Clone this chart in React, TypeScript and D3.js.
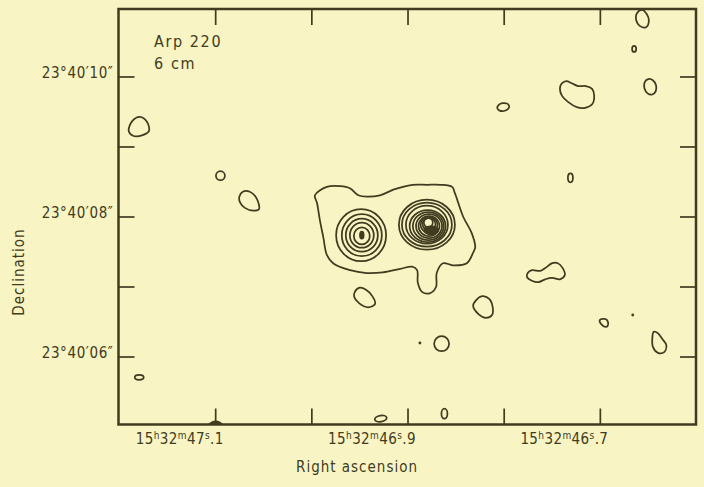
import React from 'react'
import * as d3 from 'd3'

const W = 704
const H = 487

// map offsets are in arcsec from RA 15h32m46.9s, Dec +23°40'08"
const RA0 = 46.9
const DEC0 = 8
const COS_DEC = Math.cos(((23 + 40 / 60 + 8 / 3600) * Math.PI) / 180)

const raTicks = [47.1, 47.0, 46.9, 46.8, 46.7]
const raLabels = [
  { ra: 47.1, sec: '47', frac: '.1' },
  { ra: 46.9, sec: '46', frac: '.9' },
  { ra: 46.7, sec: '46', frac: '.7' }
]
const decTicks = [10, 9, 8, 7, 6]
const decLabels = [10, 8, 6]

// outer (lowest) contour around both nuclei, [dRA", dDec"]
const envelope: [number, number][] = [
  [1.33, 0.31], [1.16, 0.43], [0.97, 0.44], [0.83, 0.41], [0.71, 0.31], [0.59, 0.29],
  [0.40, 0.31], [0.21, 0.39], [0.07, 0.43], [-0.07, 0.46], [-0.27, 0.46], [-0.46, 0.46],
  [-0.63, 0.43], [-0.67, 0.34], [-0.79, 0], [-0.91, -0.23], [-0.96, -0.43], [-0.93, -0.51],
  [-0.84, -0.66], [-0.64, -0.69], [-0.50, -0.66], [-0.41, -0.80], [-0.40, -1.00], [-0.31, -1.09],
  [-0.20, -1.07], [-0.14, -0.94], [-0.13, -0.76], [-0.06, -0.71], [0.11, -0.74], [0.36, -0.79],
  [0.59, -0.80], [0.83, -0.76], [1.07, -0.66], [1.16, -0.54], [1.21, -0.29], [1.26, -0.04],
  [1.30, 0.20]
]

// eastern nucleus rings [cx, cy, rx, ry]
const eastRings: [number, number, number, number][] = [
  [0.67, -0.26, 0.357, 0.371],
  [0.66, -0.26, 0.286, 0.30],
  [0.66, -0.26, 0.229, 0.236],
  [0.66, -0.26, 0.171, 0.179],
  [0.66, -0.27, 0.114, 0.121]
]
const eastPeak: [number, number, number, number] = [0.66, -0.26, 0.026, 0.05]

// western nucleus rings
const westRings: [number, number, number, number][] = [
  [-0.27, -0.11, 0.40, 0.357],
  [-0.27, -0.11, 0.357, 0.314],
  [-0.27, -0.11, 0.30, 0.271],
  [-0.28, -0.13, 0.257, 0.229],
  [-0.29, -0.13, 0.221, 0.20],
  [-0.30, -0.13, 0.186, 0.171],
  [-0.30, -0.13, 0.15, 0.143],
  [-0.30, -0.11, 0.121, 0.114],
  [-0.30, -0.10, 0.093, 0.086],
  [-0.29, -0.08, 0.064, 0.064]
]
const westPeak: [number, number, number, number] = [-0.33, -0.19, 0.10, 0.057]

// irregular noise contours
const patches: [number, number][][] = [
  [[3.99, 1.23], [3.94, 1.37], [3.83, 1.43], [3.73, 1.36], [3.70, 1.23], [3.79, 1.17], [3.93, 1.16]],
  [[2.41, 0.29], [2.36, 0.36], [2.26, 0.36], [2.16, 0.26], [2.13, 0.11], [2.21, 0.09], [2.33, 0.13], [2.40, 0.21]],
  [[-2.19, 1.90], [-2.26, 1.94], [-2.34, 1.91], [-2.43, 1.87], [-2.54, 1.87], [-2.63, 1.83], [-2.66, 1.73],
   [-2.63, 1.61], [-2.53, 1.56], [-2.41, 1.57], [-2.29, 1.64], [-2.20, 1.73], [-2.17, 1.83]],
  [[-1.71, -0.80], [-1.77, -0.76], [-1.89, -0.77], [-1.96, -0.73], [-2.06, -0.66], [-2.14, -0.66], [-2.21, -0.73],
   [-2.24, -0.83], [-2.17, -0.89], [-2.06, -0.87], [-1.96, -0.89], [-1.86, -0.93], [-1.77, -0.91], [-1.70, -0.86]],
  [[-3.27, 2.91], [-3.34, 2.96], [-3.41, 2.90], [-3.44, 2.80], [-3.40, 2.71], [-3.31, 2.73], [-3.26, 2.81]],
  [[0.76, -1.07], [0.69, -1.01], [0.60, -1.04], [0.51, -1.13], [0.47, -1.24], [0.57, -1.29], [0.70, -1.23], [0.77, -1.14]],
  [[-0.97, -1.19], [-1.06, -1.13], [-1.16, -1.17], [-1.21, -1.29], [-1.20, -1.40], [-1.11, -1.44], [-1.01, -1.39], [-0.93, -1.27]],
  [[-3.51, -1.64], [-3.57, -1.66], [-3.63, -1.74], [-3.69, -1.83], [-3.66, -1.93], [-3.57, -1.94], [-3.50, -1.86], [-3.49, -1.73]],
  [[-2.74, -1.47], [-2.83, -1.46], [-2.86, -1.53], [-2.83, -1.57], [-2.76, -1.53]]
]

// small elliptical noise contours [cx, cy, rx, ry, rot]
const islands: [number, number, number, number, number][] = [
  [2.68, 0.59, 0.064, 0.064, 0],
  [3.84, -2.29, 0.064, 0.036, 0],
  [-3.23, 2.40, 0.029, 0.043, 0],
  [-3.46, 1.86, 0.086, 0.114, -15],
  [-1.36, 1.57, 0.086, 0.057, -10],
  [-2.32, 0.56, 0.036, 0.064, 0],
  [-0.48, -1.81, 0.107, 0.107, 0],
  [0.39, -2.88, 0.086, 0.043, -10],
  [-0.52, -2.81, 0.043, 0.071, 0]
]
const dots: [number, number][] = [[-0.17, -1.80], [-3.21, -1.40]]

const INK = '#413b20'
const PAPER = '#f8f4c4'
const FONT = '"DejaVu Sans Condensed", "Liberation Sans Narrow", sans-serif'

export default function App() {
  const x = d3.scaleLinear().domain([4.136, -4.114]).range([118.5, 696])
  const y = d3.scaleLinear().domain([2.971, -2.964]).range([9, 424.5])
  const k = x(0) - x(1)
  const raX = (ra: number) => x((ra - RA0) * 15 * COS_DEC)
  const decY = (d: number) => y(d - DEC0)

  const line = d3
    .line<[number, number]>()
    .x(d => x(d[0]))
    .y(d => y(d[1]))
    .curve(d3.curveCatmullRomClosed.alpha(0.5))

  const [x0, x1] = x.range()
  const [y0, y1] = y.range()
  const tick = 16
  const sw = 1.75

  const ellipse = (e: number[], i: number, fill = 'none') => (
    <ellipse
      key={i}
      cx={x(e[0])}
      cy={y(e[1])}
      rx={e[2] * k}
      ry={e[3] * k}
      fill={fill}
      stroke={INK}
      strokeWidth={sw}
      transform={e[4] ? `rotate(${e[4]},${x(e[0])},${y(e[1])})` : undefined}
    />
  )

  const hx = raX(47.1)

  return (
    <svg
      width={W}
      height={H}
      style={{ position: 'absolute', left: 0, top: 0, display: 'block' }}
      fontFamily={FONT}
    >
      <rect width={W} height={H} fill={PAPER} />

      <defs>
        <clipPath id="frame">
          <rect x={x0} y={y0} width={x1 - x0} height={y1 - y0} />
        </clipPath>
      </defs>

      <g clipPath="url(#frame)" fill="none" stroke={INK} strokeWidth={sw}>
        <path d={line(envelope) || ''} />
        {eastRings.map((r, i) => ellipse(r, i))}
        {westRings.map((r, i) => ellipse(r, 100 + i))}
        {ellipse(eastPeak, 200, INK)}
        {ellipse(westPeak, 201, INK)}
        {patches.map((p, i) => (
          <path key={i} d={line(p) || ''} />
        ))}
        {islands.map((r, i) => ellipse(r, 300 + i))}
        {dots.map((d, i) => (
          <circle key={i} cx={x(d[0])} cy={y(d[1])} r={1.4} fill={INK} stroke="none" />
        ))}
      </g>

      {/* frame */}
      <rect x={x0} y={y0} width={x1 - x0} height={y1 - y0} fill="none" stroke={INK} strokeWidth={2.5} />

      {/* ticks */}
      <g stroke={INK} strokeWidth={1.7}>
        {raTicks.map(t => (
          <g key={t}>
            <line x1={raX(t)} x2={raX(t)} y1={y0} y2={y0 + tick} />
            <line x1={raX(t)} x2={raX(t)} y1={y1} y2={y1 - tick} />
          </g>
        ))}
        {decTicks.map(t => (
          <g key={t}>
            <line x1={x0} x2={x0 + tick} y1={decY(t)} y2={decY(t)} />
            <line x1={x1} x2={x1 - tick} y1={decY(t)} y2={decY(t)} />
          </g>
        ))}
      </g>
      <path d={`M${hx - 8},${y1} Q${hx},${y1 - 8} ${hx + 8},${y1} Z`} fill={INK} />

      {/* tick labels */}
      <g fill={INK} fontSize={15}>
        {decLabels.map(d => (
          <text key={d} x={x0 - 5} y={decY(d) + 1} textAnchor="end" letterSpacing={0.6}>
            {`23°40′${String(d).padStart(2, '0')}″`}
          </text>
        ))}
        {raLabels.map(l => (
          <text key={l.ra} x={raX(l.ra) + 8} y={444} textAnchor="end" letterSpacing={0.4}>
            <tspan>15</tspan>
            <tspan fontSize={10} dy={-5}>h</tspan>
            <tspan dy={5}>32</tspan>
            <tspan fontSize={10} dy={-5}>m</tspan>
            <tspan dy={5}>{l.sec}</tspan>
            <tspan fontSize={10} dy={-5}>s</tspan>
            <tspan dy={5}>{l.frac}</tspan>
          </text>
        ))}
      </g>

      {/* axis titles */}
      <g fill={INK} fontSize={15} letterSpacing={1}>
        <text x={357} y={472} textAnchor="middle">Right ascension</text>
        <text transform="translate(24,272) rotate(-90)" textAnchor="middle">Declination</text>
        <text x={154} y={47} fontSize={16} letterSpacing={1.6}>Arp 220</text>
        <text x={154} y={69} fontSize={16} letterSpacing={1.6}>6 cm</text>
      </g>
    </svg>
  )
}
